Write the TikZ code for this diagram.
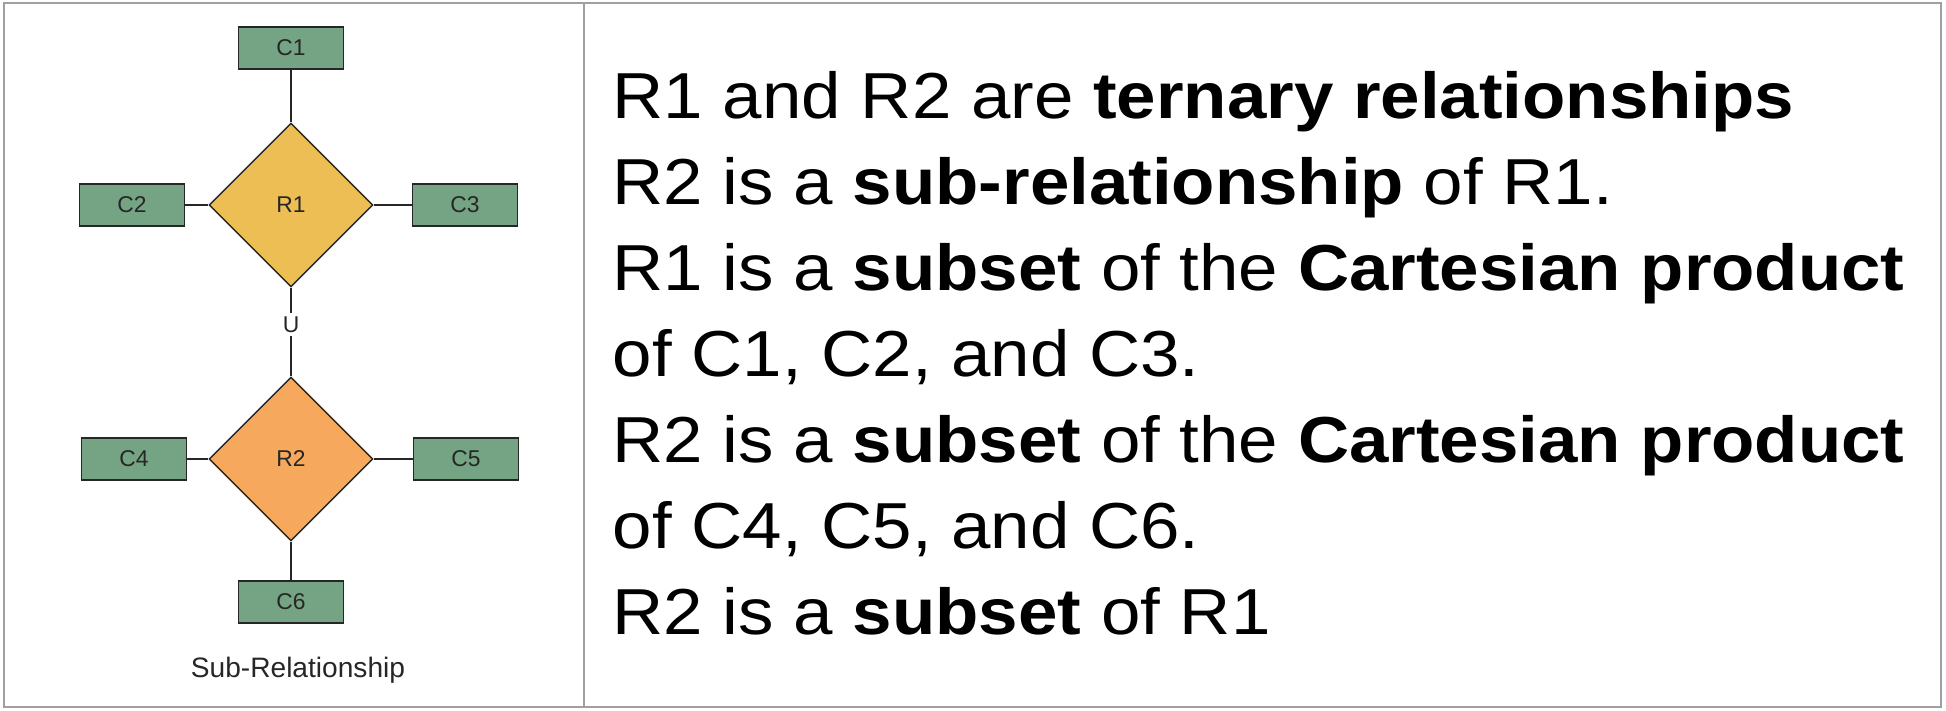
\documentclass[tikz,border=0pt]{standalone}
\usepackage{fontspec}
\setmainfont[FakeStretch=1.09]{Liberation Sans}
\newfontfamily\diafont{Liberation Sans}
\usepackage{xcolor}
\usepackage{tikz}
\usetikzlibrary{positioning,shapes.geometric}
\definecolor{setgreen}{RGB}{116,164,132}
\definecolor{relyellow}{RGB}{236,190,84}
\definecolor{relorange}{RGB}{246,168,92}
\definecolor{framegray}{RGB}{160,160,160}
\tikzset{
  setbox/.style={draw=black!85, fill=setgreen, minimum width=1.05cm, minimum height=0.42cm,
                 inner sep=0pt, text=black!85, font=\diafont\fontsize{6.5}{7.5}\selectfont},
  relbox/.style={diamond, draw=black!85, minimum width=1.64cm, minimum height=1.64cm,
                 inner sep=0pt, text=black!85, font=\diafont\fontsize{6.5}{7.5}\selectfont},
  link/.style={draw=black!85, line width=0.5pt},
  panel/.style={draw=framegray, line width=0.8pt},
  desctext/.style={align=left, inner sep=0pt, font=\fontsize{18.5}{24.45}\selectfont}
}
\begin{document}
\begin{tikzpicture}
    \useasboundingbox (0,0) rectangle (19.46,-7.10);
    \def\xR{2.91} \def\yA{-2.05} \def\yB{-4.59}

    % frame and divider
    \draw[panel] (0.04,-0.03) rectangle (19.41,-7.07);
    \draw[panel] (5.84,-0.03) -- (5.84,-7.07);

    % upper relationship
    \node[relbox, fill=relyellow] (R1) at (\xR,\yA) {R1};
    \node[setbox] (C1) at (\xR,-0.48) {C1};
    \node[setbox] (C2) at (1.32,\yA) {C2};
    \node[setbox] (C3) at (4.65,\yA) {C3};

    % lower relationship
    \node[relbox, fill=relorange] (R2) at (\xR,\yB) {R2};
    \node[setbox] (C4) at (1.34,\yB) {C4};
    \node[setbox] (C5) at (4.66,\yB) {C5};
    \node[setbox] (C6) at (\xR,-6.02) {C6};

    \draw[link] (C1) -- (R1.north);
    \draw[link] (C2) -- (R1.west);
    \draw[link] (C3) -- (R1.east);
    \draw[link] (C4) -- (R2.west);
    \draw[link] (C5) -- (R2.east);
    \draw[link] (C6) -- (R2.south);
    \draw[link] (R1.south) -- (R2.north)
      node[pos=0.42, fill=white, inner sep=1pt, text=black!85,
           font=\diafont\fontsize{6.5}{7.5}\selectfont] (U) {U};

    \node[font=\diafont\fontsize{8}{9}\selectfont, text=black!85] (caption) at (2.98,-6.70) {Sub-Relationship};

    % statements
    \node[desctext, anchor=north west] (desc) at (6.12,-0.71) {
      R1 and R2 are \textbf{ternary relationships}\\
      R2 is a \textbf{sub-relationship} of R1.\\
      R1 is a \textbf{subset} of the \textbf{Cartesian product}\\
      of C1, C2, and C3.\\
      R2 is a \textbf{subset} of the \textbf{Cartesian product}\\
      of C4, C5, and C6.\\
      R2 is a \textbf{subset} of R1
    };
\end{tikzpicture}
\end{document}
